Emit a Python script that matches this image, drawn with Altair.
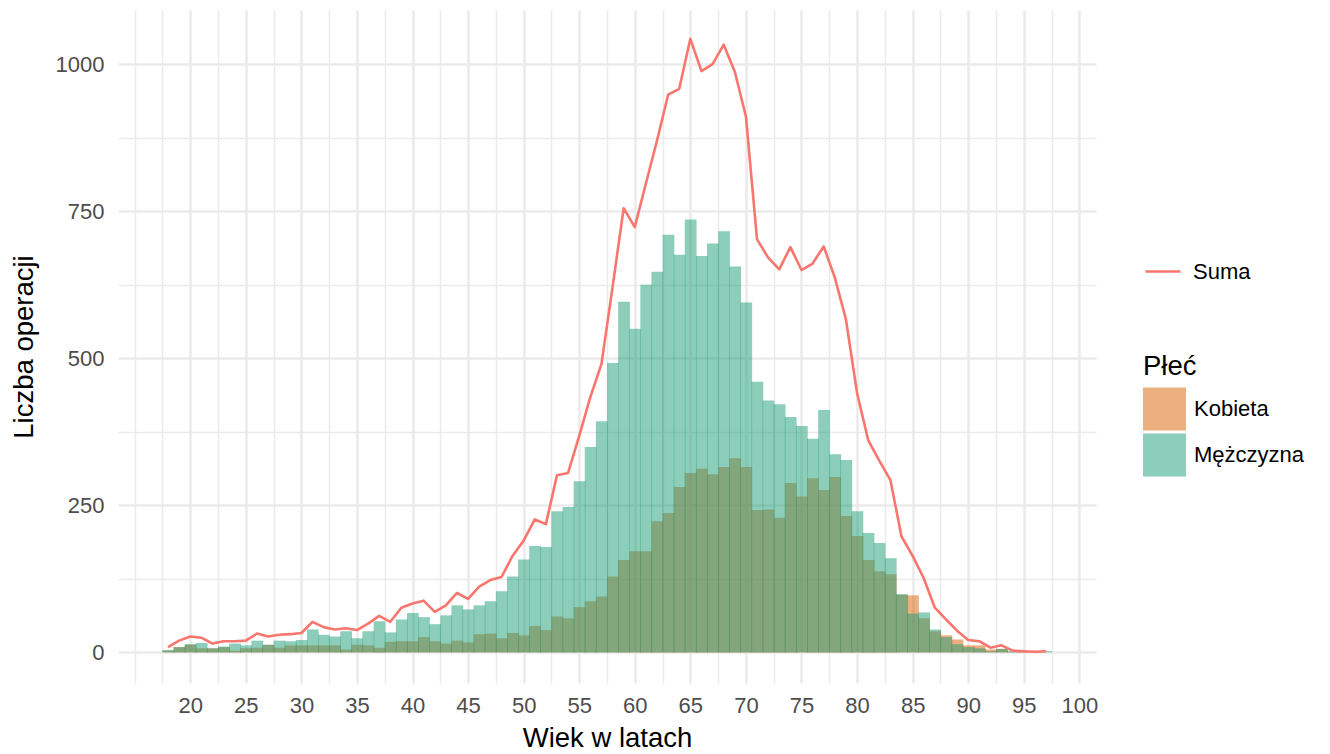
import altair as alt
import pandas as pd

# ---- data ----
ages = list(range(18, 98))

kobieta = [3, 9, 13, 7, 7, 9, 3, 7, 8, 13,
           8, 12, 12, 12, 12, 12, 5, 13, 12, 8,
           18, 19, 19, 26, 19, 15, 20, 17, 31, 32,
           24, 33, 29, 45, 38, 61, 58, 77, 87, 95,
           129, 157, 172, 172, 223, 237, 281, 305, 312, 303,
           315, 330, 315, 242, 243, 229, 288, 265, 296, 276,
           298, 232, 198, 157, 138, 133, 98, 97, 58, 36,
           29, 22, 12, 12, 5, 6, 1, 1, 0, 0]

mezczyzna = [4, 9, 14, 16, 7, 10, 15, 12, 20, 13,
             20, 19, 21, 39, 30, 27, 36, 24, 36, 53,
             34, 56, 67, 60, 48, 63, 80, 73, 80, 87,
             104, 129, 158, 181, 179, 240, 247, 291, 349, 393,
             492, 596, 550, 625, 647, 710, 676, 736, 674, 695,
             716, 656, 595, 460, 428, 422, 400, 385, 363, 412,
             337, 327, 240, 203, 186, 160, 99, 66, 68, 39,
             26, 14, 9, 7, 2, 6, 2, 1, 1, 2]

suma = [9, 20, 27, 25, 15, 19, 19, 20, 32, 27,
        30, 31, 33, 52, 43, 39, 41, 38, 49, 62,
        52, 76, 83, 88, 69, 80, 101, 91, 112, 123,
        128, 164, 190, 226, 218, 301, 305, 368, 434, 490,
        621, 755, 723, 797, 870, 948, 958, 1043, 988, 1000,
        1033, 987, 911, 702, 671, 651, 689, 650, 661, 690,
        637, 566, 441, 361, 326, 293, 197, 164, 126, 76,
        56, 37, 21, 19, 8, 12, 3, 2, 1, 2]

sex_levels = ["Kobieta", "Mężczyzna"]
sex_colors = ["#D95F02", "#1B9E77"]
x_ticks = [15, 17.5, 20, 22.5, 25, 27.5, 30, 32.5, 35, 37.5, 40, 42.5, 45, 47.5,
           50, 52.5, 55, 57.5, 60, 62.5, 65, 67.5, 70, 72.5, 75, 77.5, 80, 82.5,
           85, 87.5, 90, 92.5, 95, 97.5, 100]
y_ticks = [0, 125, 250, 375, 500, 625, 750, 875, 1000]

bars = pd.DataFrame({
    "age": ages * 2,
    "count": kobieta + mezczyzna,
    "sex": ["Kobieta"] * len(ages) + ["Mężczyzna"] * len(ages),
})
line_df = pd.DataFrame({"age": ages, "suma": suma, "series": ["Suma"] * len(ages)})

FONT = "Liberation Sans"
W, H = 978, 673

x_scale = alt.Scale(domain=[13.5, 101.5], nice=False, zero=False)
y_scale = alt.Scale(domain=[-52, 1092], nice=False, zero=False)

x_axis = alt.Axis(
    values=x_ticks, title="Wiek w latach", format="d",
    labelExpr="datum.value >= 20 && datum.value % 5 === 0 ? datum.label : ''",
    gridWidth={"condition": {"test": "datum.value >= 20 && datum.value % 5 === 0", "value": 2.6}, "value": 1.5},
    gridColor="#EBEBEB", domain=False, ticks=False, tickSize=0,
    labelFont=FONT, labelFontSize=22, labelColor="#4D4D4D",
    labelBaseline="alphabetic", labelPadding=29.7, labelOverlap=False, labelFlush=False,
    titleFont=FONT, titleFontSize=27.5, titleFontWeight="normal", titleColor="#000000",
    titleBaseline="alphabetic", titleX=W / 2, titleY=63,
)
y_axis = alt.Axis(
    values=y_ticks, title="Liczba operacji", format="d",
    labelExpr="datum.value % 250 === 0 ? datum.label : ''",
    gridWidth={"condition": {"test": "datum.value % 250 === 0", "value": 2.6}, "value": 1.5},
    gridColor="#EBEBEB", domain=False, ticks=False, tickSize=0,
    labelFont=FONT, labelFontSize=22, labelColor="#4D4D4D",
    labelPadding=14, labelOverlap=False, labelFlush=False,
    titleFont=FONT, titleFontSize=27.5, titleFontWeight="normal", titleColor="#000000",
    titleBaseline="alphabetic", titleAngle=270, titleX=-86, titleY=H / 2,
)

fill_legend = alt.Legend(
    title="Płeć", orient="none", legendX=1025, legendY=343, padding=0, offset=0,
    symbolType="square", symbolSize=1849, symbolOpacity=0.5, symbolStrokeWidth=0,
    rowPadding=3, labelOffset=8,
    labelFont=FONT, labelFontSize=22, labelColor="#000000",
    titleFont=FONT, titleFontSize=27.5, titleFontWeight="normal", titleColor="#000000",
    titlePadding=7,
)
stroke_legend = alt.Legend(
    title=None, orient="none", legendX=1026, legendY=242.5, padding=0, offset=0,
    symbolType="stroke", symbolSize=1225, symbolStrokeWidth=2.6,
    labelOffset=11, labelFont=FONT, labelFontSize=22, labelColor="#000000",
)

fill_enc = alt.Fill("sex:N", scale=alt.Scale(domain=sex_levels, range=sex_colors), legend=fill_legend)

base_bars = alt.Chart(bars).transform_calculate(
    x0="datum.age - 0.5", x1="datum.age + 0.56"
)

def bar_layer(level):
    return base_bars.transform_filter(alt.datum.sex == level).mark_rect(
        fillOpacity=0.5, strokeWidth=0
    ).encode(
        x=alt.X("x0:Q", scale=x_scale, axis=x_axis),
        x2="x1:Q",
        y=alt.Y("count:Q", scale=y_scale, axis=y_axis),
        y2=alt.datum(0),
        fill=fill_enc,
    )

line = alt.Chart(line_df).mark_line(strokeWidth=2.6, strokeJoin="round").encode(
    x=alt.X("age:Q", scale=x_scale, axis=x_axis),
    y=alt.Y("suma:Q", scale=y_scale, axis=y_axis),
    stroke=alt.Stroke("series:N", scale=alt.Scale(domain=["Suma"], range=["#F8766D"]), legend=stroke_legend),
)

chart = alt.layer(bar_layer("Kobieta"), bar_layer("Mężczyzna"), line).properties(
    width=W, height=H,
    padding={"left": 110, "top": 2, "right": 214, "bottom": 78},
    autosize=alt.AutoSizeParams(type="none"),
    background="white",
).configure_view(stroke=None)

chart.save("out.html", embed_options={"renderer": "svg", "actions": False})
